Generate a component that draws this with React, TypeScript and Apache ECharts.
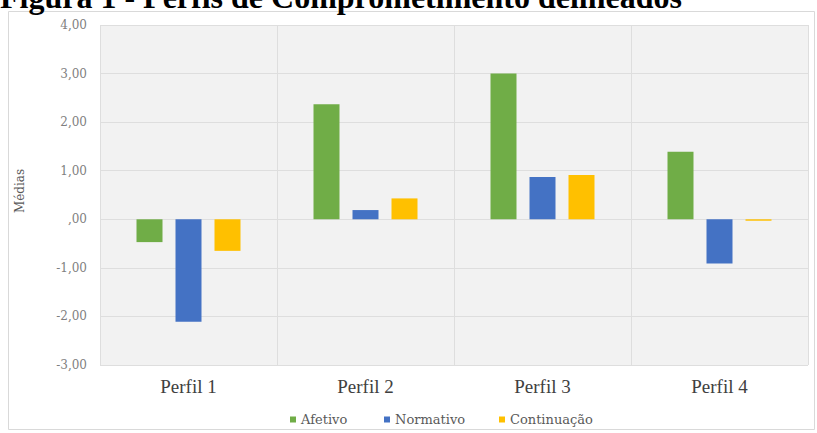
import React, { useEffect, useRef } from "react";
import * as echarts from "echarts";

const categories = ["Perfil 1", "Perfil 2", "Perfil 3", "Perfil 4"];
const afetivo = [-0.47, 2.37, 3.0, 1.39];
const normativo = [-2.11, 0.19, 0.87, -0.91];
const continuacao = [-0.65, 0.43, 0.91, -0.03];
const seriesNames = ["Afetivo", "Normativo", "Continuação"];
const titleText = "Figura 1 - Perfis de Comprometimento delineados";
const yAxisName = "Médias";

const SERIF = "'Liberation Serif', 'Times New Roman', serif";
const WIDE = "'DejaVu Serif', serif";

export default function App() {
  const ref = useRef<HTMLDivElement>(null);
  useEffect(() => {
    if (!ref.current) return;
    const chart = echarts.init(ref.current, undefined, { renderer: "svg" });
    const fmt = (v: number) => {
      if (Math.abs(v) < 1e-9) return ",00";
      return v.toFixed(2).replace(".", ",");
    };
    const legendBase = {
      top: 413,
      itemWidth: 6,
      itemHeight: 6,
      icon: "rect",
      padding: 0,
      textStyle: { fontFamily: WIDE, fontSize: 13, color: "#595959" },
    };
    chart.setOption({
      animation: false,
      backgroundColor: "#ffffff",
      graphic: [
        {
          type: "rect",
          shape: { x: 8.5, y: 11.5, width: 806, height: 418 },
          style: { fill: "#ffffff", stroke: "#d9d9d9", lineWidth: 1 },
          z: -10,
          silent: true,
        },
        {
          type: "text",
          x: 0,
          y: -19,
          style: {
            text: titleText,
            font: `bold 32px ${SERIF}`,
            fill: "#000000",
            verticalAlign: "top",
          },
          z: 10,
        },
        {
          type: "text",
          x: 20,
          y: 191,
          rotation: Math.PI / 2,
          style: {
            text: yAxisName,
            font: `12px ${WIDE}`,
            fill: "#595959",
            align: "center",
            verticalAlign: "middle",
          },
        },
      ],
      grid: {
        left: 100,
        right: 9,
        top: 25,
        bottom: 68,
        show: true,
        backgroundColor: "#f2f2f2",
        borderWidth: 0,
      },
      legend: [
        { ...legendBase, data: [seriesNames[0]], left: 290 },
        { ...legendBase, data: [seriesNames[1]], left: 384 },
        { ...legendBase, data: [seriesNames[2]], left: 499 },
      ],
      xAxis: {
        type: "category",
        data: categories,
        axisLine: { show: false, onZero: false },
        axisTick: { show: false },
        axisLabel: { fontFamily: SERIF, fontSize: 19, color: "#404040", margin: 12 },
        splitLine: { show: true, lineStyle: { color: "#dedede", width: 1 } },
      },
      yAxis: {
        type: "value",
        min: -3,
        max: 4,
        interval: 1,
        axisLine: { show: false },
        axisTick: { show: false },
        axisLabel: { fontFamily: WIDE, fontSize: 12, color: "#7f7f7f", margin: 13, formatter: fmt },
        splitLine: { show: true, lineStyle: { color: "#dedede", width: 1 } },
      },
      series: [
        { name: seriesNames[0], type: "bar", data: afetivo, barWidth: 26, barGap: "50%", itemStyle: { color: "#70ad47" } },
        { name: seriesNames[1], type: "bar", data: normativo, barWidth: 26, barGap: "50%", itemStyle: { color: "#4472c4" } },
        { name: seriesNames[2], type: "bar", data: continuacao, barWidth: 26, barGap: "50%", itemStyle: { color: "#ffc000" } },
      ],
    });
    return () => chart.dispose();
  }, []);
  return <div ref={ref} style={{ position: "fixed", left: 0, top: 0, width: 817, height: 433 }} />;
}
